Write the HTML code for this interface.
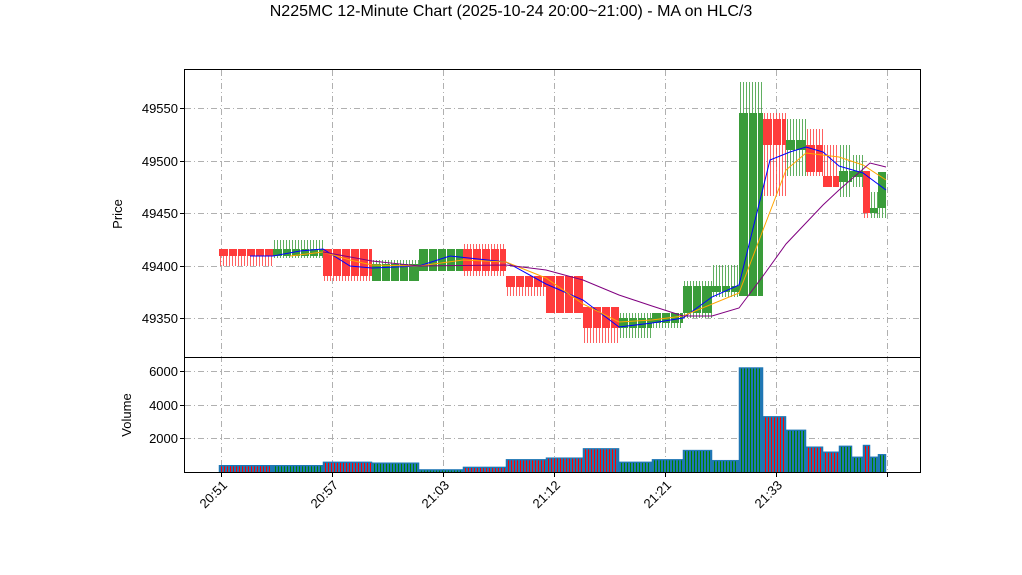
<!DOCTYPE html>
<html><head><meta charset="utf-8"><style>
html,body{margin:0;padding:0;background:#fff;width:1022px;height:575px;overflow:hidden}
svg text{font-family:"Liberation Sans",sans-serif;fill:#000}
</style></head><body>
<svg id="s" width="1022" height="575" xmlns="http://www.w3.org/2000/svg">
<text x="511" y="16" font-size="16" text-anchor="middle">N225MC 12-Minute Chart (2025-10-24 20:00~21:00) - MA on HLC/3</text>
<g id="grid" stroke="#b0b0b0" stroke-width="1" stroke-dasharray="6,3,1,3"></g>
<g id="c"></g>
<g id="ma" fill="none" stroke-width="1"></g>
<rect x="184.5" y="69.5" width="736" height="288" fill="none" stroke="#000"/>
<rect x="184.5" y="357.5" width="736" height="115" fill="none" stroke="#000"/>
<g font-size="13" text-anchor="end">
<text x="178" y="113">49550</text><text x="178" y="166">49500</text><text x="178" y="218">49450</text><text x="178" y="271">49400</text><text x="178" y="323">49350</text>
<text x="178" y="376">6000</text><text x="178" y="410">4000</text><text x="178" y="443">2000</text>
</g>
<text x="0" y="0" font-size="13" text-anchor="middle" transform="translate(122,214) rotate(-90)">Price</text>
<text x="0" y="0" font-size="13" text-anchor="middle" transform="translate(131,415) rotate(-90)">Volume</text>
<g font-size="13" text-anchor="end" id="xl"></g>
</svg>
<script>
var NS="http://www.w3.org/2000/svg";
function el(p,t,a){var e=document.createElementNS(NS,t);for(var k in a)e.setAttribute(k,a[k]);p.appendChild(e);return e;}
var g=document.getElementById('grid'),c=document.getElementById('c'),ma=document.getElementById('ma'),xl=document.getElementById('xl'),s=document.getElementById('s');
var xs=[221,332,443,554,665,776,887];
xs.forEach(function(x){el(g,'line',{x1:x+.5,y1:70,x2:x+.5,y2:472});el(s,'line',{x1:x+.5,y1:472,x2:x+.5,y2:477,stroke:'#000'});});
[108,161,213,266,318].forEach(function(y){el(g,'line',{x1:185,y1:y+.5,x2:920,y2:y+.5});el(s,'line',{x1:180,y1:y+.5,x2:184,y2:y+.5,stroke:'#000'});});
[371,405,438].forEach(function(y){el(g,'line',{x1:185,y1:y+.5,x2:920,y2:y+.5});el(s,'line',{x1:180,y1:y+.5,x2:184,y2:y+.5,stroke:'#000'});});
["20:51","20:57","21:03","21:12","21:21","21:33"].forEach(function(t,i){var x=xs[i]+7,y=486;var e=el(xl,'text',{x:x,y:y,transform:'rotate(-45 '+x+' '+y+')'});e.textContent=t;});
var segs=[
[219,273,'r',249,256,249,266,400],[273,323,'g',249,256,240,258,400],[323,372,'r',249,276,249,281,600],
[372,419,'g',264,281,260,281,550],[419,463,'g',249,271,249,271,150],[463,506,'r',249,271,244,276,300],
[506,546,'r',276,287,276,296,750],[546,583,'r',276,313,276,313,850],[583,619,'r',307,328,307,343,1400],
[619,652,'g',318,328,313,338,600],[652,683,'g',313,323,313,328,750],[683,712,'g',286,313,281,318,1300],
[712,739,'g',286,292,265,297,700],[739,763,'g',113,296,82,296,6200],[763,786,'r',119,145,113,196,3300],
[786,806,'g',140,150,119,176,2500],[806,823,'r',145,172,129,176,1500],[823,839,'r',176,187,145,187,1200],
[839,852,'g',171,182,145,197,1550],[852,863,'g',171,177,155,187,900],[863,870,'r',171,213,171,218,1600],
[870,878,'g',208,213,192,218,900],[878,886,'g',172,208,172,218,1050]];
segs.forEach(function(d){
 var col=d[2]=='r'?'#ff3b3b':'#3a9c3a',vc=d[2]=='r'?'#ff0000':'#008000';
 for(var x=d[0]+1;x<d[1];x+=3) el(c,'line',{x1:x+.5,y1:d[5],x2:x+.5,y2:d[6],stroke:col,'stroke-width':1,opacity:.8});
 el(c,'rect',{x:d[0],y:d[3],width:d[1]-d[0],height:Math.max(2,d[4]-d[3]),fill:col});
 for(var x=d[0]+9;x<d[1]-2;x+=9) el(c,'line',{x1:x+.5,y1:d[3],x2:x+.5,y2:d[4],stroke:'#fff','stroke-width':1});
 var vy=472-d[7]*0.01685;
 el(c,'rect',{x:d[0],y:vy,width:d[1]-d[0],height:472-vy,fill:'#1f77b4',stroke:'#1f77b4','stroke-width':.5});
 for(var x=d[0]+2;x<d[1]-1;x+=3) el(c,'line',{x1:x+.5,y1:vy+1,x2:x+.5,y2:472,stroke:vc,'stroke-width':1});
});
function pl(pts,col){el(ma,'polyline',{points:pts.map(function(p){return p.join(',')}).join(' '),stroke:col});}
pl([[250,256],[273,256],[300,251],[323,249],[350,266],[372,268],[419,266],[450,256],[506,262],[546,284],[583,300],[619,327],[652,323],[683,318],[712,297],[739,285],[770,160],[790,152],[806,147],[823,152],[839,166],[863,173],[886,190]],'#0000ff');
pl([[290,256],[323,252],[350,260],[372,265],[419,266],[463,260],[506,262],[546,278],[583,304],[619,322],[652,320],[683,316],[739,293],[763,230],[786,170],[806,153],[839,157],[863,165],[886,180]],'#ffa500');
pl([[323,252],[372,261],[419,266],[506,265],[546,270],[583,280],[619,295],[652,306],[683,316],[712,316],[739,308],[763,276],[786,244],[823,205],[839,190],[870,163],[886,167]],'#800080');
</script>
</body></html>
